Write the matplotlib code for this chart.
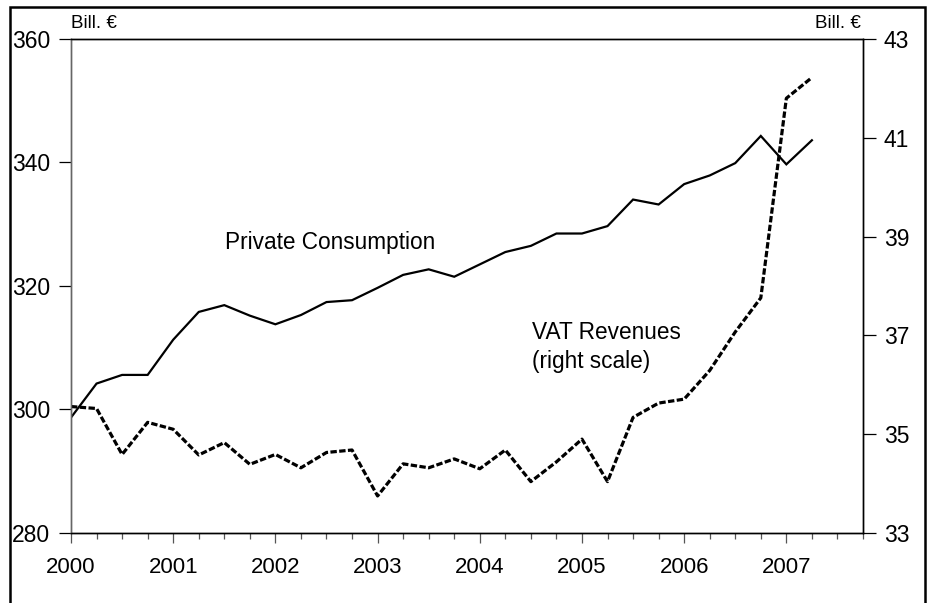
import matplotlib
matplotlib.use("Agg")
import matplotlib.pyplot as plt
from matplotlib.patches import Rectangle
from matplotlib.ticker import MultipleLocator, FixedLocator

plt.rcParams['font.family'] = ['Liberation Sans', 'DejaVu Sans']

# Quarterly data, 2000Q1 .. 2007Q2
quarters = [2000 + i * 0.25 for i in range(30)]
private_consumption = [298.7, 304.2, 305.6, 305.6, 311.3, 315.8, 316.9, 315.2,
                       313.8, 315.3, 317.4, 317.7, 319.7, 321.8, 322.7, 321.5,
                       323.5, 325.5, 326.5, 328.5, 328.5, 329.7, 334.0, 333.2,
                       336.5, 337.9, 339.9, 344.3, 339.7, 343.6]
vat_revenues = [35.56, 35.52, 34.59, 35.24, 35.10, 34.58, 34.83, 34.39,
                34.59, 34.32, 34.63, 34.68, 33.75, 34.40, 34.32, 34.50,
                34.30, 34.68, 34.04, 34.44, 34.90, 34.04, 35.34, 35.63,
                35.71, 36.29, 37.07, 37.76, 41.80, 42.22]
year_ticks = [2000, 2001, 2002, 2003, 2004, 2005, 2006, 2007]
left_ticks = [280, 300, 320, 340, 360]
right_ticks = [33, 35, 37, 39, 41, 43]

fig = plt.figure(figsize=(9.27, 6.03), dpi=100)
ax = fig.add_axes([71/927, 1-533/603, (863-71)/927, (533-39)/603])
ax2 = ax.twinx()

ax.plot(quarters, private_consumption, color='black', lw=1.6, solid_joinstyle='miter')
ax2.plot(quarters, vat_revenues, color='black', lw=2.3, linestyle=(0, (2.0, 0.75)))

ax.set_xlim(2000, 2007.75)
ax.set_ylim(280, 360)
ax2.set_ylim(33, 43)

ax.xaxis.set_major_locator(FixedLocator(year_ticks))
ax.xaxis.set_minor_locator(MultipleLocator(0.25))
ax.set_xticklabels([str(y) for y in year_ticks])
ax.set_yticks(left_ticks)
ax2.set_yticks(right_ticks)

ax.tick_params(axis='x', which='major', direction='out', length=7, width=0.9,
               labelsize=16, pad=10, color='#555555')
ax.tick_params(axis='x', which='minor', direction='out', length=4, width=0.9, color='#555555')
ax.tick_params(axis='y', direction='out', length=9, width=0.9, labelsize=16.5, pad=6)
ax2.tick_params(axis='y', direction='out', length=9, width=0.9, labelsize=16.5, pad=6)

for a in (ax, ax2):
    for s in a.spines.values():
        s.set_linewidth(1.0)
        s.set_color('black')
ax.spines['left'].set_color('#666666')
ax2.spines['left'].set_color('#666666')

ax.text(2001.51, 327.1, 'Private Consumption', fontsize=16.3, ha='left', va='center')
ax.text(2004.515, 312.55, 'VAT Revenues', fontsize=16.3, ha='left', va='center')
ax.text(2004.515, 307.85, '(right scale)', fontsize=16.3, ha='left', va='center')

fig.text(71/927, 1-24/603, 'Bill. €', fontsize=13.5, ha='left', va='center')
fig.text(861/927, 1-24/603, 'Bill. €', fontsize=13.5, ha='right', va='center')

frame = Rectangle((10/927, -0.2), (925-10)/927, 1.2 - 7/603, transform=fig.transFigure,
                  fill=False, edgecolor='black', lw=1.8)
fig.add_artist(frame)

fig.savefig('out.png', dpi=100)
